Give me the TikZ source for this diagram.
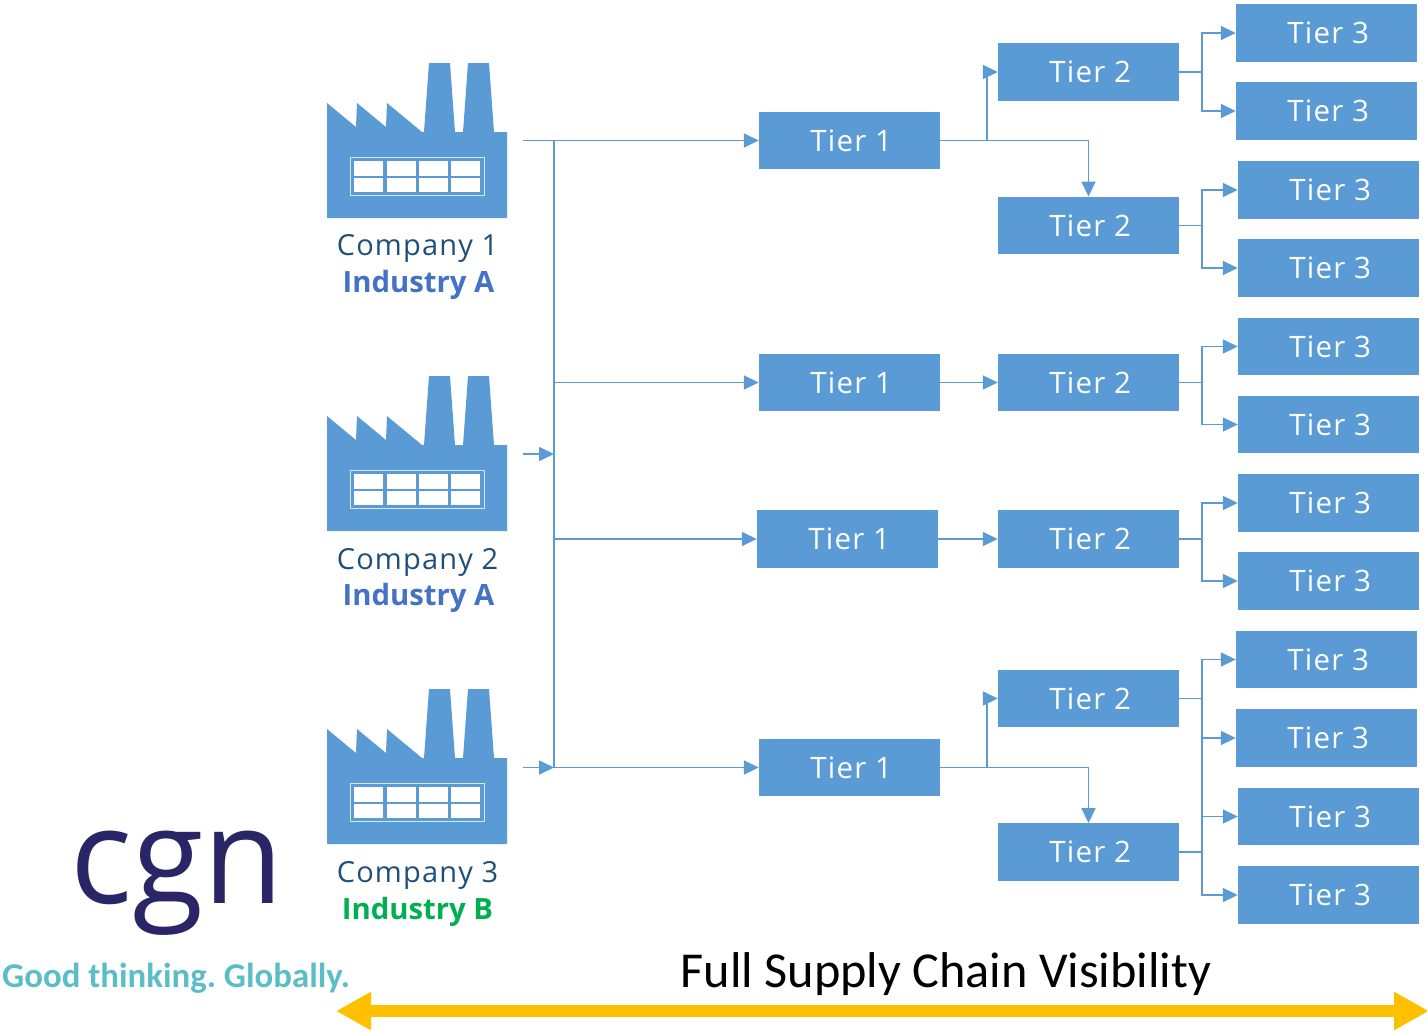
\documentclass[tikz,border=0pt]{standalone}
\usepackage{fontspec}
\setmainfont{Open Sans}
\newfontfamily\tierfont[LetterSpace=4]{Open Sans}
\newfontfamily\calfont{Carlito}
\newfontfamily\logofont[FakeStretch=0.98]{Open Sans}
\usetikzlibrary{arrows.meta}
\definecolor{tierblue}{HTML}{5B9BD5}
\definecolor{compcol}{HTML}{1F4E79}
\definecolor{indA}{HTML}{4472C4}
\definecolor{indB}{HTML}{00B050}
\definecolor{amber}{HTML}{FFC000}
\definecolor{logonavy}{HTML}{2A2567}
\definecolor{logoteal}{HTML}{5BBDC6}
\tikzset{
  x=1pt,y=-1pt,
  tierbox/.style={fill=tierblue,draw=none,minimum width=181pt,minimum height=57.5pt,inner sep=0pt,text=white,font=\tierfont\fontsize{29.5}{32}\selectfont,execute at begin node={\hspace*{3.5pt}}},
  conn/.style={draw=tierblue,line width=1.7pt,-{Triangle[length=15pt,width=14pt]}},
  plainconn/.style={draw=tierblue,line width=1.7pt},
  complabel/.style={text=compcol,inner sep=0pt,font=\tierfont\fontsize{29}{32}\selectfont},
  indlabel/.style={inner sep=0pt,font=\bfseries\fontsize{29.3}{32}\selectfont},
}
\newcommand{\factory}[1]{%
  \begin{scope}[yshift=#1]
    \fill[tierblue] (327,103)--(356,127)--(357,103)--(386,127)--(387,103)--(422,132)--(424,132)--(429,63)--(450,63)--(455,132)--(463,132)--(468,63)--(489,63)--(494,132)--(507,132)--(507,218)--(327,218)--cycle;
    \draw[white!75!tierblue,line width=1.5pt] (350.5,157.5) rectangle (484.5,195.5);
    \foreach \xa/\xb in {354.3/383.3,386.7/416,419/448,451/480.3}{
      \fill[white] (\xa,161) rectangle (\xb,175.7);
      \fill[white] (\xa,178.3) rectangle (\xb,192.3);
    }
  \end{scope}}
\begin{document}
\begin{tikzpicture}
\useasboundingbox (0,0) rectangle (1427,1031);
\factory{0pt}
\factory{-313pt}
\factory{-626pt}
\node[complabel] (c1) at (417.5,248) {Company 1};
\node[indlabel,text=indA] (i1) at (418.5,285) {Industry A};
\node[complabel] (c2) at (417.5,562) {Company 2};
\node[indlabel,text=indA] (i2) at (418.5,598) {Industry A};
\node[complabel] (c3) at (417.5,875) {Company 3};
\node[indlabel,text=indB] (i3) at (417.5,912) {Industry B};

\node[tierbox] (ta) at (849.5,140.5) {Tier 1};
\node[tierbox] (tb) at (849.5,382.5) {Tier 1};
\node[tierbox] (tc) at (847.5,539) {Tier 1};
\node[tierbox] (td) at (849.5,767.5) {Tier 1};

\node[tierbox] (sa) at (1088.5,72) {Tier 2};
\node[tierbox] (sb) at (1088.5,225.5) {Tier 2};
\node[tierbox] (sc) at (1088.5,382.5) {Tier 2};
\node[tierbox] (sd) at (1088.5,539) {Tier 2};
\node[tierbox] (se) at (1088.5,698.5) {Tier 2};
\node[tierbox] (sf) at (1088.5,852) {Tier 2};

\node[tierbox] (r1) at (1326.5,33) {Tier 3};
\node[tierbox] (r2) at (1326.5,111) {Tier 3};
\node[tierbox] (r3) at (1328.5,190) {Tier 3};
\node[tierbox] (r4) at (1328.5,268) {Tier 3};
\node[tierbox] (r5) at (1328.5,346.5) {Tier 3};
\node[tierbox] (r6) at (1328.5,424.5) {Tier 3};
\node[tierbox] (r7) at (1328.5,503) {Tier 3};
\node[tierbox] (r8) at (1328.5,581) {Tier 3};
\node[tierbox] (r9) at (1326.5,659.5) {Tier 3};
\node[tierbox] (r10) at (1326.5,738) {Tier 3};
\node[tierbox] (r11) at (1328.5,816.5) {Tier 3};
\node[tierbox] (r12) at (1328.5,895) {Tier 3};

% source stubs and bus
\coordinate (f1) at (523,140.5);
\coordinate (f2) at (523,454);
\coordinate (f3) at (523,767.5);
\coordinate (bt) at (554,140.5);
\coordinate (bm) at (554,454);
\coordinate (bb) at (554,767.5);
\coordinate (bc) at (554,382.5);
\coordinate (bd) at (554,539);
\draw[plainconn] (bt) -- (bb);
\draw[conn] (f1) -- (ta);
\draw[conn] (f2) -- (bm);
\draw[conn] (f3) -- (bb);
\draw[conn] (bc) -- (tb);
\draw[conn] (bd) -- (tc);
\draw[conn] (bb) -- (td);

% tier 1 to tier 2
\coordinate (ja) at (987,140.5);
\coordinate (jd) at (987,767.5);
\draw[conn] (ta) -- (ja) |- (sa);
\draw[conn] (ta) -| (sb);
\draw[conn] (tb) -- (sc);
\draw[conn] (tc) -- (sd);
\draw[conn] (td) -- (jd) |- (se);
\draw[conn] (td) -| (sf);

% tier 2 to tier 3
\foreach \s/\u/\v in {sa/r1/r2,sb/r3/r4,sc/r5/r6,sd/r7/r8}{
  \draw[conn] (\s.east) -- ++(23,0) |- (\u);
  \draw[conn] (\s.east) -- ++(23,0) |- (\v);
}
\coordinate (je) at (1202,698.5);
\coordinate (jf) at (1202,852);
\draw[plainconn] (se) -- (je);
\draw[plainconn] (sf) -- (jf);
\draw[plainconn] (je) -- (jf);
\draw[conn] (je) |- (r9);
\draw[conn] (je) |- (r10);
\draw[conn] (jf) |- (r11);
\draw[conn] (jf) |- (r12);

% logo
\node[inner sep=0pt,text=logonavy,anchor=base,font=\logofont\fontsize{133}{140}\selectfont] (logo) at (177,903) {cgn};
\node[inner sep=0pt,text=logoteal,font=\bfseries\calfont\fontsize{34.8}{38}\selectfont\frenchspacing] (tag) at (176,978) {Good thinking. Globally.};

% visibility arrow
\node[inner sep=0pt,font=\calfont\fontsize{50.3}{54}\selectfont] (vis) at (946,974) {Full Supply Chain Visibility};
\coordinate (al) at (336,1011);
\coordinate (ar) at (1429,1011);
\draw[amber,line width=12pt,{Triangle[length=35pt,width=36pt]}-{Triangle[length=35pt,width=36pt]}] (al) -- (ar);
\end{tikzpicture}
\end{document}
